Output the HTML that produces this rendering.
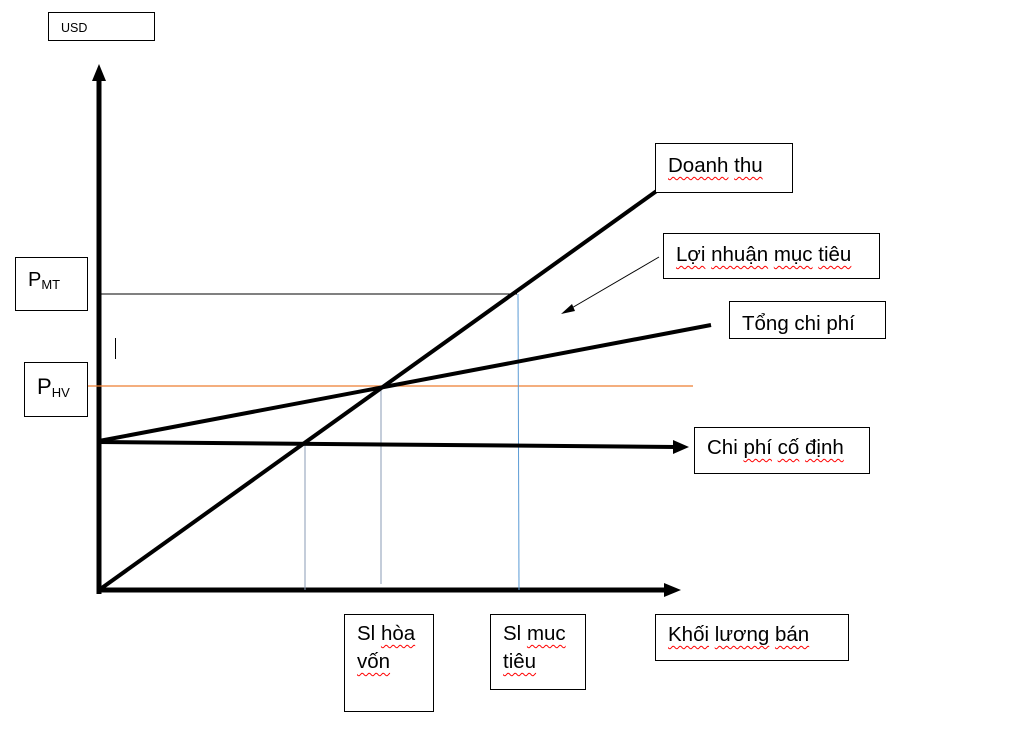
<!DOCTYPE html>
<html><head><meta charset="utf-8"><style>
body{margin:0;width:1012px;height:747px;background:#fff;position:relative;overflow:hidden;font-family:"Liberation Sans",sans-serif;}
.b{position:absolute;border:1.3px solid #000;background:#fff;box-sizing:border-box;font-size:20.5px;color:#000;padding:8px 0 0 12px;line-height:28px;overflow:hidden;white-space:nowrap}
.w{text-decoration:underline wavy red;text-decoration-thickness:1px;text-underline-offset:4px}
sub{font-size:13px;vertical-align:-3px}
</style></head><body>
<svg width="1012" height="747" style="position:absolute;left:0;top:0">
<line x1="99" y1="78" x2="99" y2="594" stroke="#000" stroke-width="5"/>
<polygon points="99,64 92,81 106,81" fill="#000"/>
<line x1="97" y1="590" x2="668" y2="590" stroke="#000" stroke-width="5"/>
<polygon points="681,590 664,583 664,597" fill="#000"/>
<line x1="101" y1="294" x2="517" y2="294" stroke="#000" stroke-width="1"/>
<line x1="87" y1="386" x2="693" y2="386" stroke="#ed7d31" stroke-width="1.2"/>
<line x1="115.5" y1="338" x2="115.5" y2="359" stroke="#000" stroke-width="1"/>
<line x1="305" y1="442" x2="305" y2="590" stroke="#8a9bb5" stroke-width="1"/>
<line x1="381" y1="386" x2="381" y2="584" stroke="#8a9bb5" stroke-width="1"/>
<line x1="518" y1="294" x2="519" y2="590" stroke="#5b9bd5" stroke-width="1"/>
<line x1="99" y1="442" x2="676" y2="447" stroke="#000" stroke-width="4"/>
<polygon points="689,447 673,440 673,454" fill="#000"/>
<line x1="99" y1="441" x2="711" y2="325" stroke="#000" stroke-width="4"/>
<line x1="99" y1="590" x2="658" y2="190" stroke="#000" stroke-width="4"/>
<line x1="659" y1="257" x2="570" y2="309" stroke="#000" stroke-width="1"/>
<polygon points="561,314 572,304 575,311" fill="#000"/>
</svg>
<div class="b" style="left:48px;top:12px;width:107px;height:29px;font-size:12.5px;padding:7px 0 0 12px;line-height:16px">USD</div>
<div class="b" style="left:15px;top:257px;width:73px;height:54px;font-size:20px;padding:8px 0 0 12px">P<sub>MT</sub></div>
<div class="b" style="left:24px;top:362px;width:64px;height:55px;font-size:22px;padding:10px 0 0 12px">P<sub>HV</sub></div>
<div class="b" style="left:655px;top:143px;width:138px;height:50px"><span class="w">Doanh</span> <span class="w">thu</span></div>
<div class="b" style="left:663px;top:233px;width:217px;height:46px;padding-top:7px"><span class="w">Lợi</span> <span class="w">nhuận</span> <span class="w">mục</span> <span class="w">tiêu</span></div>
<div class="b" style="left:729px;top:301px;width:157px;height:38px;padding:8px 0 0 12px">Tổng chi phí</div>
<div class="b" style="left:694px;top:427px;width:176px;height:47px;padding-top:6px">Chi <span class="w">phí</span> <span class="w">cố</span> <span class="w">định</span></div>
<div class="b" style="left:344px;top:614px;width:90px;height:98px;padding-top:5px">Sl <span class="w">hòa</span><br><span class="w">vốn</span></div>
<div class="b" style="left:490px;top:614px;width:96px;height:76px;padding-top:5px">Sl <span class="w">muc</span><br><span class="w">tiêu</span></div>
<div class="b" style="left:655px;top:614px;width:194px;height:47px;padding-top:6px"><span class="w">Khối</span> <span class="w">lương</span> <span class="w">bán</span></div>
</body></html>
